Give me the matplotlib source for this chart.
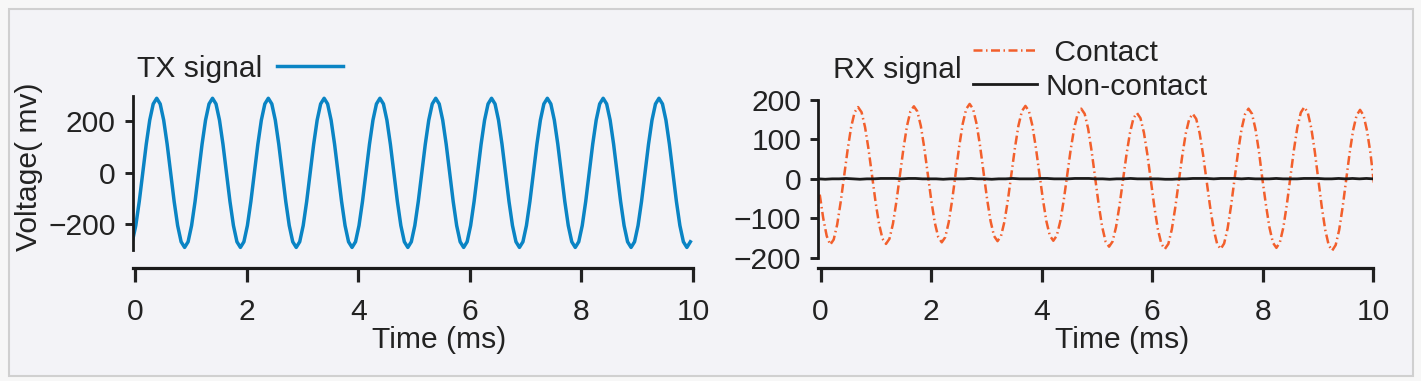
import numpy as np
import matplotlib.pyplot as plt
from matplotlib.patches import Rectangle

plt.rcParams['font.family'] = ['Liberation Sans', 'DejaVu Sans']
plt.rcParams['text.color'] = '#222222'
plt.rcParams['axes.labelcolor'] = '#222222'
plt.rcParams['xtick.color'] = '#222222'
plt.rcParams['ytick.color'] = '#222222'

W, H = 1421, 381
FS = 21.6

# TX signal (mV), sampled every 1/16 ms starting at t = -0.0475 ms
tx_t0, tx_dt = -0.0475, 1 / 16
tx_mv = [
    -268, -205, -111, 0, 111, 205, 268, 290, 268, 205, 111, 0, -111, -205, -268, -290,
    -268, -205, -111, 0, 111, 205, 268, 290, 268, 205, 111, 0, -111, -205, -268, -290,
    -268, -205, -111, 0, 111, 205, 268, 290, 268, 205, 111, 0, -111, -205, -268, -290,
    -268, -205, -111, 0, 111, 205, 268, 290, 268, 205, 111, 0, -111, -205, -268, -290,
    -268, -205, -111, 0, 111, 205, 268, 290, 268, 205, 111, 0, -111, -205, -268, -290,
    -268, -205, -111, 0, 111, 205, 268, 290, 268, 205, 111, 0, -111, -205, -268, -290,
    -268, -205, -111, 0, 111, 205, 268, 290, 268, 205, 111, 0, -111, -205, -268, -290,
    -268, -205, -111, 0, 111, 205, 268, 290, 268, 205, 111, 0, -111, -205, -268, -290,
    -268, -205, -111, 0, 111, 205, 268, 290, 268, 205, 111, 0, -111, -205, -268, -290,
    -268, -205, -111, 0, 111, 205, 268, 290, 268, 205, 111, 0, -111, -205, -268, -290,
    -268,
]

# RX signal, contact case (mV), sampled every 0.06306 ms starting at t = -0.014 ms
contact_t0, contact_dt = -0.014, 0.06306
contact_mv = [
    -40, -100, -145,
    -167, -154, -116, -59, 8, 74, 131, 169,
    182, 169, 131, 75, 9, -58, -114, -152,
    -165, -152, -114, -57, 10, 76, 133, 171,
    184, 171, 134, 78, 12, -55, -111, -148,
    -161, -148, -110, -53, 15, 82, 139, 177,
    190, 177, 139, 83, 16, -51, -107, -145,
    -158, -145, -108, -52, 14, 79, 135, 172,
    185, 172, 135, 79, 14, -51, -107, -144,
    -157, -144, -108, -54, 11, 75, 129, 165,
    178, 165, 127, 70, 3, -64, -121, -159,
    -172, -159, -122, -67, -3, 62, 117, 154,
    167, 154, 117, 61, -6, -72, -128, -165,
    -178, -165, -128, -72, -7, 59, 115, 152,
    165, 152, 115, 59, -7, -72, -128, -165,
    -178, -164, -126, -68, 0, 68, 126, 164,
    178, 165, 126, 69, -2, -66, -123, -162,
    -175, -161, -123, -65, 4, 72, 130, 168,
    182, 168, 129, 70, 0, -70, -129, -168,
    -182, -168, -130, -72, -4, 65, 123, 161,
    175, 161, 122, 64, -13,
]

# RX signal, non-contact case (mV), spread evenly over -0.04 .. 10 ms
noncontact_mv = [
    0, -1, 0, 0, 1, 0, -1, 0, 0, 1, 1, 1, 0, 1, 1, 0, 0, 0, -1, 0,
    0, 0, 1, 0, 0, -1, 0, 0, 1, 0, 0, 0, 1, 1, 0, 0, 0, 1, 1, 1,
    0, 0, -1, 0, 0, 1, 0, 0, 0, 0, -1, -1, 0, 0, 1, 1, 1, 0, 1, 1,
    1, 0, 1, 0, 0, 0, 1, 0, 0, 0, 1, 1, 1, 0, 0, 1, 0, 1, 0, 1, 0,
]

x_ticks = [0, 2, 4, 6, 8, 10]
tx_yticks = [-200, 0, 200]
rx_yticks = [-200, -100, 0, 100, 200]

tx_t = tx_t0 + np.arange(len(tx_mv)) * tx_dt
contact_t = contact_t0 + np.arange(len(contact_mv)) * contact_dt
noncontact_t = np.linspace(-0.04, 10, len(noncontact_mv))

fig = plt.figure(figsize=(W / 100, H / 100), dpi=100, facecolor='#f7f7f7')
frame = Rectangle((8.5 / W, 1 - 375.5 / H), (1412.5 - 8.5) / W, (375.5 - 8.5) / H,
                  transform=fig.transFigure, facecolor='#f3f3f7',
                  edgecolor='#d0d0d0', lw=1.5, zorder=0)
fig.add_artist(frame)

ax1 = fig.add_axes([0.09339, 0.34383, 0.3943, 0.40499])
ax2 = fig.add_axes([0.57587, 0.32362, 0.39057, 0.41391])


def style(ax, offset):
    ax.set_facecolor('none')
    for s in ['top', 'right']:
        ax.spines[s].set_visible(False)
    ax.spines['left'].set_linewidth(2.0)
    ax.spines['bottom'].set_linewidth(2.3)
    ax.spines['left'].set_color('#1a1a1a')
    ax.spines['bottom'].set_color('#1a1a1a')
    ax.spines['bottom'].set_position(('outward', offset))
    ax.tick_params(axis='y', length=5.8, width=2.1, pad=6.5, labelsize=FS)
    ax.tick_params(axis='x', length=10, width=2.3, pad=11.5, labelsize=FS)
    ax.set_xlim(-0.04, 10)
    ax.set_xticks(x_ticks)


# left: TX
tx_line, = ax1.plot(tx_t, tx_mv, color='#0a84c4', lw=2.5)
style(ax1, 13)
ax1.set_ylim(-300, 300)
ax1.set_yticks(tx_yticks)
ax1.set_ylabel('Voltage( mv)', fontsize=FS)
ax1.yaxis.set_label_coords(-0.160, 0.538)
ax1.set_xlabel('Time (ms)', fontsize=FS)
ax1.xaxis.set_label_coords(0.546, -0.492)
ax1.legend([tx_line], ['TX signal'], loc='upper left',
           bbox_to_anchor=(0.0964, 0.8562), bbox_transform=fig.transFigure,
           frameon=False, markerfirst=False, handlelength=2.2,
           handletextpad=0.48, borderpad=0, borderaxespad=0, fontsize=FS)

# right: RX
contact_line, = ax2.plot(contact_t, contact_mv, color='#f25f2c', lw=1.8,
                         linestyle=(0, (3.6, 1.4, 0.6, 1.4)))
non_line, = ax2.plot(noncontact_t, noncontact_mv, color='#1a1a1a', lw=2.0)
style(ax2, 7.2)
ax2.set_ylim(-200, 200)
ax2.set_yticks(rx_yticks)
ax2.set_xlabel('Time (ms)', fontsize=FS)
ax2.xaxis.set_label_coords(0.547, -0.433)
ax2.legend([contact_line, non_line], [' Contact', 'Non-contact'], loc='upper left',
           bbox_to_anchor=(0.6847, 0.8982), bbox_transform=fig.transFigure,
           frameon=False, handlelength=2.15, handletextpad=0.28,
           labelspacing=0.2, borderpad=0, borderaxespad=0, fontsize=FS)
fig.text(833 / W, 1 - 77.7 / H, 'RX signal', ha='left', va='baseline', fontsize=FS)

fig.savefig('out.png', dpi=100, facecolor=fig.get_facecolor())
